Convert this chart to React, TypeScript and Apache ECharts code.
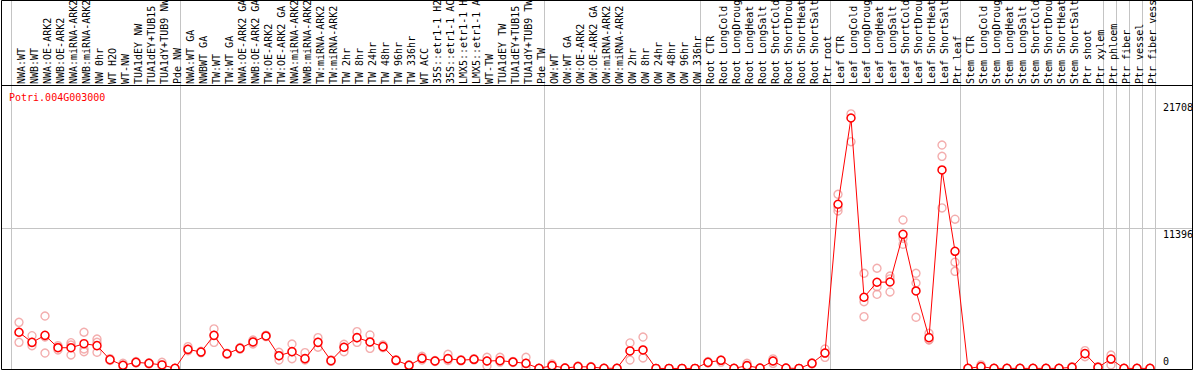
import React, { useEffect, useRef } from 'react';
import * as echarts from 'echarts';

const categories = [
  'NWA:WT', 'NWB:WT', 'NWA:OE-ARK2', 'NWB:OE-ARK2', 'NWA:miRNA-ARK2', 'NWB:miRNA-ARK2',
  'NW 0hr', 'WT H2O', 'WT-NW', 'TUA1dEY NW', 'TUA1dEY+TUB15 NW', 'TUA1dY+TUB9 NW', 'Pde NW',
  'NWA:WT GA', 'NWBWT GA', 'TW:WT', 'TW:WT GA', 'NWA:OE-ARK2 GA', 'NWB:OE-ARK2 GA',
  'TW:OE-ARK2', 'TW:OE-ARK2 GA', 'NWA:miRNA-ARK2 GA', 'NWB:miRNA-ARK2 GA', 'TW:miRNA-ARK2',
  'TW:miRNA-ARK2 GA', 'TW 2hr', 'TW 8hr', 'TW 24hr', 'TW 48hr', 'TW 96hr', 'TW 336hr', 'WT ACC',
  '35S::etr1-1 H2O', '35S::etr1-1 ACC', 'LMX5::etr1-1 H2O', 'LMX5::etr1-1 ACC', 'WT-TW',
  'TUA1dEY TW', 'TUA1dEY+TUB15 TW', 'TUA1dY+TUB9 TW', 'Pde TW',
  'OW:WT', 'OW:WT GA', 'OW:OE-ARK2', 'OW:OE-ARK2 GA', 'OW:miRNA-ARK2', 'OW:miRNA-ARK2 GA',
  'OW 2hr', 'OW 8hr', 'OW 24hr', 'OW 48hr', 'OW 96hr', 'OW 336hr',
  'Root CTR', 'Root LongCold', 'Root LongDrought', 'Root LongHeat', 'Root LongSalt',
  'Root ShortCold', 'Root ShortDrought', 'Root ShortHeat', 'Root ShortSalt', 'Ptr root',
  'Leaf CTR', 'Leaf LongCold', 'Leaf LongDrought', 'Leaf LongHeat', 'Leaf LongSalt',
  'Leaf ShortCold', 'Leaf ShortDrought', 'Leaf ShortHeat', 'Leaf ShortSalt', 'Ptr leaf',
  'Stem CTR', 'Stem LongCold', 'Stem LongDrought', 'Stem LongHeat', 'Stem LongSalt',
  'Stem ShortCold', 'Stem ShortDrought', 'Stem ShortHeat', 'Stem ShortSalt', 'Ptr shoot',
  'Ptr xylem', 'Ptr phloem', 'Ptr fiber', 'Ptr vessel', 'Ptr fiber vessel',
];

const meanValues = [
  2950, 2130, 2700, 1690, 1690, 2020, 1860, 720, 260, 500, 420, 290, 10,
  1560, 1340, 2700, 1200, 1640, 2160, 2650, 1040, 1370, 800, 2130, 640, 1730, 2510, 2160, 1780,
  670, 260, 830, 610, 800, 670, 750, 610, 640, 530, 420, 10,
  230, 40, 150, 120, 20, 20, 1430, 1510, 5, 5, 5, 5,
  500, 670, 10, 230, 30, 610, 30, 5, 420, 1260,
  13370, 20390, 5800, 7020, 7040, 10920, 6310, 2510, 16160, 9540,
  10, 150, 10, 10, 10, 10, 10, 10, 100, 1210, 100,
  770, 10, 10, 10,
];

const rep1 = [
  3760, 2670, 4270, 1860, 2100, 2950, 2400, 800, 420, 560, 460, 500, 20,
  1780, 1400, 3220, 1250, 1700, 2320, 2700, 1320, 1990, 1290, 2510, 700, 1970, 3000, 2730, 1910,
  720, 300, 990, 650, 1160, 720, 800, 910, 910, 570, 910, 20,
  370, 60, 200, 160, 30, 30, 2080, 2560, 5, 5, 5, 5,
  560, 700, 20, 420, 40, 780, 40, 10, 470, 1590,
  14180, 21990, 7750, 8160, 7530, 12090, 7750, 2870, 18190, 12150,
  20, 290, 20, 20, 20, 20, 20, 20, 150, 1450, 150,
  1100, 20, 20, 20,
];

const rep2 = [
  2950, 2130, 2570, 1720, 1910, 1590, 2130, 720, 260, 500, 420, 290, 10,
  1560, 1340, 2700, 1200, 1640, 2160, 2650, 1040, 1370, 800, 2130, 640, 1730, 2510, 2160, 1780,
  670, 260, 830, 610, 800, 670, 750, 610, 640, 530, 420, 10,
  230, 40, 150, 120, 20, 20, 1430, 1510, 5, 5, 5, 5,
  500, 670, 10, 230, 30, 610, 30, 5, 420, 1260,
  13090, 20720, 5440, 6660, 7290, 10600, 6960, 2340, 17270, 8650,
  10, 150, 10, 10, 10, 10, 10, 10, 100, 1210, 100,
  770, 10, 10, 10,
];

const rep3 = [
  2130, 1860, 1260, 1510, 1100, 1370, 1320, 650, 200, 450, 380, 180, 0,
  1450, 1280, 2130, 1150, 1580, 2000, 2600, 690, 800, 690, 1730, 580, 1370, 2130, 1640, 1700,
  620, 220, 700, 570, 650, 620, 700, 200, 520, 490, 100, 0,
  120, 20, 100, 80, 10, 10, 690, 860, 5, 5, 5, 5,
  450, 520, 0, 100, 20, 420, 20, 0, 370, 910,
  12820, 18460, 4220, 6040, 6230, 10110, 4170, 2320, 13070, 7910,
  0, 20, 0, 0, 0, 0, 0, 0, 50, 960, 50,
  290, 0, 0, 0,
];

const yTickLabels = [0, 11396, 21708];
const groupBoundaries = [0, 13, 41, 53, 63, 73, 84, 85, 86, 87];
const geneTitle = 'Potri.004G003000';

export default function App() {
  const ref = useRef<HTMLDivElement>(null);
  useEffect(() => {
    document.body.style.margin = '0';
    const chart = echarts.init(ref.current as HTMLDivElement, null, { renderer: 'svg' });
    const font = 'DejaVu Sans Mono';
    const repData: number[][] = [];
    [rep1, rep2, rep3].forEach((arr) => arr.forEach((v, i) => repData.push([i, v])));

    const hiddenCat = (gridIndex: number, extra: any = {}) => ({
      type: 'category',
      gridIndex,
      data: categories,
      boundaryGap: true,
      axisLine: { show: false },
      axisTick: { show: false },
      axisLabel: { show: false },
      splitLine: { show: false },
      ...extra,
    });
    const hiddenVal = (gridIndex: number, extra: any = {}) => ({
      type: 'value',
      gridIndex,
      axisLine: { show: false },
      axisTick: { show: false },
      axisLabel: { show: false },
      splitLine: { show: false },
      ...extra,
    });

    chart.setOption({
      animation: false,
      backgroundColor: '#fff',
      grid: [
        { left: 12.5, right: 37.5, top: 101.8, bottom: 1.5 },
        { left: 11, right: 39, top: 0, bottom: 1 },
        { left: 15, right: 35, top: 85, height: 1 },
      ],
      xAxis: [
        hiddenCat(0),
        hiddenCat(1, {
          splitLine: {
            show: true,
            interval: (idx: number) => groupBoundaries.includes(idx),
            lineStyle: { color: '#c4c4c4', width: 1 },
          },
        }),
        hiddenCat(2, {
          position: 'top',
          axisLabel: {
            show: true,
            interval: 0,
            rotate: 90,
            margin: 2,
            fontFamily: font,
            fontSize: 10,
            color: '#000',
          },
        }),
      ],
      yAxis: [
        hiddenVal(0, { min: 0, max: 21708 }),
        hiddenVal(1, { min: 0, max: 1 }),
        hiddenVal(2, { min: 0, max: 1 }),
      ],
      series: [
        {
          type: 'scatter',
          xAxisIndex: 0,
          yAxisIndex: 0,
          data: repData,
          symbol: 'circle',
          symbolSize: 8,
          silent: true,
          itemStyle: { color: 'transparent', borderColor: '#f09a9a', borderWidth: 1.4 },
          z: 3,
        },
        {
          type: 'line',
          xAxisIndex: 0,
          yAxisIndex: 0,
          data: meanValues,
          symbol: 'circle',
          symbolSize: 8,
          showAllSymbol: true,
          silent: true,
          lineStyle: { color: '#ff0000', width: 1 },
          itemStyle: { color: '#ffffff', borderColor: '#ff0000', borderWidth: 1.5 },
          z: 4,
        },
      ],
    });

    const yPix = (v: number) => chart.convertToPixel({ yAxisIndex: 0 }, v) as number;
    const labelEls = yTickLabels.map((v) => ({
      type: 'text',
      x: 1163,
      y: v === 0 ? yPix(v) - 2 : yPix(v) + 1,
      style: {
        text: String(v),
        fill: '#000',
        font: `10px "${font}"`,
        align: 'left',
        verticalAlign: v === 0 ? 'bottom' : 'top',
      },
      z: 10,
    }));
    const gridY = Math.round(yPix(11396)) + 0.5;

    chart.setOption({
      graphic: [
        {
          type: 'line',
          shape: { x1: 1, y1: gridY, x2: 1193, y2: gridY },
          style: { stroke: '#c4c4c4', lineWidth: 1 },
          z: 0,
        },
        {
          type: 'line',
          shape: { x1: 1, y1: 85.5, x2: 1193, y2: 85.5 },
          style: { stroke: '#000', lineWidth: 1 },
          z: 10,
        },
        {
          type: 'rect',
          shape: { x: 1.5, y: 0.5, width: 1191, height: 369 },
          style: { fill: 'none', stroke: '#000', lineWidth: 1 },
          z: 10,
        },
        {
          type: 'text',
          x: 9,
          y: 97,
          style: {
            text: geneTitle,
            fill: '#ff0000',
            font: `10px "${font}"`,
            align: 'left',
            verticalAlign: 'middle',
          },
          z: 10,
        },
        ...labelEls,
      ],
    });

    return () => chart.dispose();
  }, []);
  return <div ref={ref} style={{ width: 1194, height: 370 }} />;
}
